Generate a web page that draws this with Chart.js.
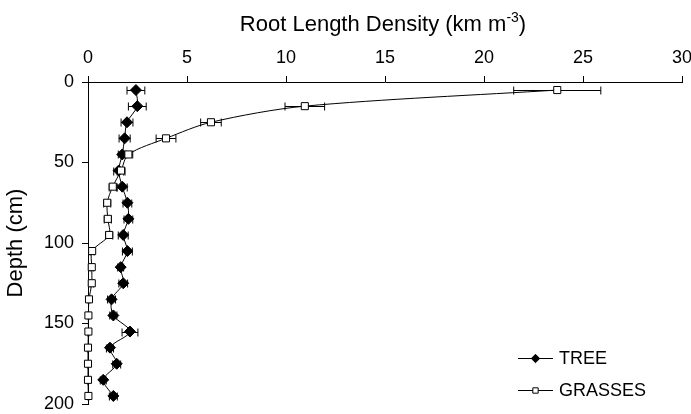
<!DOCTYPE html>
<html>
<head>
<meta charset="utf-8">
<script src="https://cdn.jsdelivr.net/npm/chart.js@4.4.0/dist/chart.umd.min.js"></script>
<style>
  html, body { margin: 0; padding: 0; background: #fff; }
</style>
</head>
<body>
<canvas id="chart" width="691" height="414"></canvas>
<script>
// depth of each sampling layer (cm)
const depths = [5, 15, 25, 35, 45, 55, 65, 75, 85, 95, 105, 115, 125, 135, 145, 155, 165, 175, 185, 195];

// root length density (km m-3) and error (+/-)
const treeRLD = [2.42, 2.49, 1.97, 1.85, 1.73, 1.55, 1.73, 1.99, 2.04, 1.78, 1.99, 1.65, 1.78, 1.19, 1.28, 2.12, 1.11, 1.45, 0.77, 1.28];
const treeErr = [0.45, 0.45, 0.3, 0.28, 0.2, 0.25, 0.25, 0.22, 0.22, 0.25, 0.25, 0.15, 0.22, 0.2, 0.18, 0.4, 0.18, 0.2, 0.15, 0.2];
const grassRLD = [23.7, 10.95, 6.21, 3.94, 2.04, 1.67, 1.25, 0.97, 1.0, 1.07, 0.21, 0.19, 0.19, 0.05, 0.02, 0.02, 0.0, 0.0, 0.0, 0.02];
const grassErr = [2.2, 1.0, 0.52, 0.5, 0.22, 0.2, 0.18, 0.18, 0.18, 0.18, 0.1, 0.08, 0.08, 0.05, 0.03, 0.03, 0.02, 0.02, 0.02, 0.02];

const xTicks = [0, 5, 10, 15, 20, 25, 30];
const yTicks = [0, 50, 100, 150, 200];

const FONT = 'Arial, "Liberation Sans", sans-serif';

function toPoints(vals, errs) {
    return depths.map((d, i) => ({ x: vals[i], y: d, err: errs[i] }));
}

// horizontal error bars, drawn under the markers
const errorBars = {
    id: 'errorBars',
    beforeDatasetsDraw(chart) {
        const ctx = chart.ctx;
        const xs = chart.scales.x, ys = chart.scales.y;
        ctx.save();
        ctx.strokeStyle = '#000';
        ctx.lineWidth = 1;
        chart.data.datasets.forEach(ds => {
            ds.data.forEach(p => {
                const y = Math.round(ys.getPixelForValue(p.y)) + 0.5;
                const x1 = xs.getPixelForValue(p.x - p.err);
                const x2 = xs.getPixelForValue(p.x + p.err);
                ctx.beginPath();
                ctx.moveTo(x1, y); ctx.lineTo(x2, y);
                ctx.moveTo(x1, y - 4); ctx.lineTo(x1, y + 4);
                ctx.moveTo(x2, y - 4); ctx.lineTo(x2, y + 4);
                ctx.stroke();
            });
        });
        ctx.restore();
    }
};

// top title with superscript, and legend in the lower right
const extras = {
    id: 'extras',
    afterDraw(chart) {
        const ctx = chart.ctx;
        const area = chart.chartArea;
        ctx.save();
        ctx.fillStyle = '#000';
        ctx.textBaseline = 'alphabetic';

        // title
        const main = 'Root Length Density (km m';
        ctx.font = '22px ' + FONT;
        const w1 = ctx.measureText(main).width;
        const w3 = ctx.measureText(')').width;
        ctx.font = '14px ' + FONT;
        const w2 = ctx.measureText('-3').width;
        const cx = (area.left + area.right) / 2 - 2;
        let tx = cx - (w1 + w2 + w3) / 2;
        const base = 31;
        ctx.font = '22px ' + FONT;
        ctx.fillText(main, tx, base);
        ctx.font = '14px ' + FONT;
        ctx.fillText('-3', tx + w1, base - 9);
        ctx.font = '22px ' + FONT;
        ctx.fillText(')', tx + w1 + w2, base);

        // legend
        const items = [chart.data.datasets[1], chart.data.datasets[0]];
        const lx = area.right - 164;
        items.forEach((ds, i) => {
            const ly = area.bottom - 46 + i * 32;
            ctx.strokeStyle = '#000';
            ctx.lineWidth = 1;
            ctx.beginPath();
            ctx.moveTo(lx, ly + 0.5);
            ctx.lineTo(lx + 35, ly + 0.5);
            ctx.stroke();
            ctx.fillStyle = ds.pointBackgroundColor;
            ctx.strokeStyle = '#000';
            Chart.helpers.drawPoint(ctx, {
                pointStyle: ds.pointStyle,
                rotation: 0,
                borderWidth: 1,
                radius: ds.pointStyle === 'rect' ? 3.8 : 4.2
            }, lx + 17.5, ly + 0.5);
            ctx.fillStyle = '#000';
            ctx.font = '18px ' + FONT;
            ctx.textBaseline = 'middle';
            ctx.fillText(ds.label, lx + 41, ly + 1);
        });
        ctx.restore();
    }
};

new Chart(document.getElementById('chart'), {
    type: 'scatter',
    data: {
        datasets: [
            {
                label: 'GRASSES',
                data: toPoints(grassRLD, grassErr),
                showLine: true,
                tension: 0.3,
                borderColor: '#000',
                borderWidth: 1,
                pointStyle: 'rect',
                pointRadius: 5,
                pointBackgroundColor: '#fff',
                pointBorderColor: '#000',
                pointBorderWidth: 1,
                clip: false
            },
            {
                label: 'TREE',
                data: toPoints(treeRLD, treeErr),
                showLine: true,
                tension: 0.3,
                borderColor: '#000',
                borderWidth: 1,
                pointStyle: 'rectRot',
                pointRadius: 5.5,
                pointBackgroundColor: '#000',
                pointBorderColor: '#000',
                pointBorderWidth: 1,
                clip: false
            }
        ]
    },
    options: {
        responsive: false,
        animation: false,
        layout: { padding: { top: 0, left: 0, right: 9, bottom: 10 } },
        plugins: {
            legend: { display: false },
            tooltip: { enabled: false }
        },
        scales: {
            x: {
                type: 'linear',
                position: 'top',
                min: xTicks[0],
                max: xTicks[xTicks.length - 1],
                afterBuildTicks: s => { s.ticks = xTicks.map(v => ({ value: v })); },
                afterFit: s => { s.height = 82; s.paddingLeft = 0; s.paddingRight = 0; },
                ticks: { color: '#000', font: { size: 18, family: FONT }, padding: 7 },
                grid: { drawOnChartArea: false, drawTicks: true, tickLength: 6, color: '#000', tickColor: '#000' },
                border: { color: '#000', width: 1 }
            },
            y: {
                type: 'linear',
                reverse: true,
                min: yTicks[0],
                max: yTicks[yTicks.length - 1],
                afterBuildTicks: s => { s.ticks = yTicks.map(v => ({ value: v })); },
                afterFit: s => { s.width = 88; s.paddingTop = 0; s.paddingBottom = 0; },
                ticks: { color: '#000', font: { size: 18, family: FONT }, padding: 8 },
                grid: { drawOnChartArea: false, drawTicks: true, tickLength: 6, color: '#000', tickColor: '#000' },
                border: { color: '#000', width: 1 },
                title: {
                    display: true,
                    text: 'Depth (cm)',
                    color: '#000',
                    font: { size: 22, family: FONT },
                    padding: { top: 3, bottom: 0 }
                }
            }
        }
    },
    plugins: [errorBars, extras]
});
</script>
</body>
</html>
